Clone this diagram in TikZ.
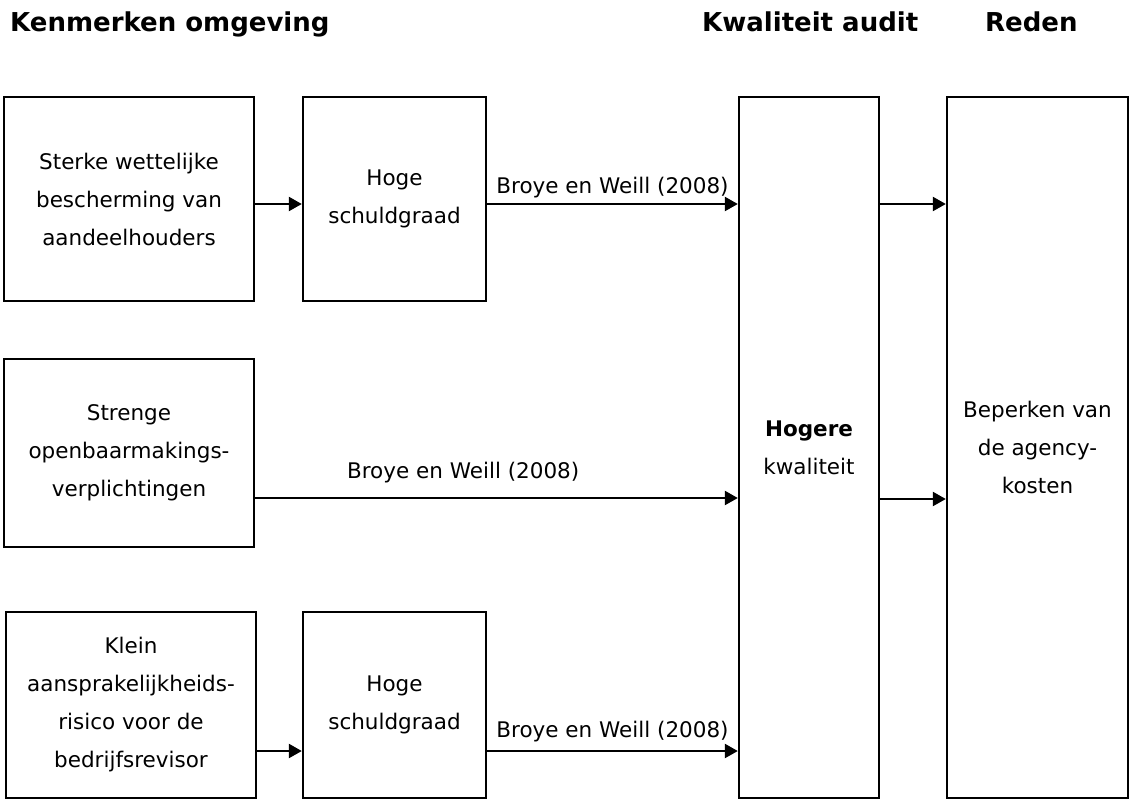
\documentclass[tikz,border=0pt]{standalone}
\usepackage{fontspec}
\setmainfont{DejaVu Sans}
\usetikzlibrary{arrows.meta}
\tikzset{
  box/.style={draw=black, line width=2.4pt, inner sep=0pt, align=center,
    font=\fontsize{21.5}{38}\selectfont},
  head/.style={anchor=base west, inner sep=0pt, font=\fontsize{26}{30}\selectfont\bfseries},
  arr/.style={line width=2.4pt, -{Triangle[length=13pt,width=14pt]}},
  lbl/.style={anchor=base, inner sep=0pt, font=\fontsize{21.5}{26}\selectfont},
}
\begin{document}
\begin{tikzpicture}[x=1pt,y=-1pt]
\useasboundingbox (0,0) rectangle (1132,800);
% headers
\node[head] (t1) at (10,32) {Kenmerken omgeving};
\node[head] (t2) at (702,32) {Kwaliteit audit};
\node[head] (t3) at (985,32) {Reden};
% boxes
\node[box, minimum width=250pt, minimum height=204pt] (A1) at (129,199)
  {Sterke wettelijke\\bescherming van\\aandeelhouders};
\node[box, minimum width=183pt, minimum height=204pt] (B1) at (394.5,199)
  {Hoge\\schuldgraad};
\node[box, minimum width=250pt, minimum height=188pt] (A2) at (129,453)
  {Strenge\\openbaarmakings-\\verplichtingen};
\node[box, minimum width=250pt, minimum height=186pt] (A3) at (131,705)
  {Klein\\aansprakelijkheids-\\risico voor de\\bedrijfsrevisor};
\node[box, minimum width=183pt, minimum height=186pt] (B3) at (394.5,705)
  {Hoge\\schuldgraad};
\node[box, minimum width=140pt, minimum height=701pt] (H) at (809,447.5)
  {\textbf{Hogere}\\kwaliteit};
\node[box, minimum width=181pt, minimum height=701pt] (R) at (1037.5,447.5)
  {Beperken van\\de agency-\\kosten};
% connector start points
\coordinate (a1) at ([yshift=-5pt]A1.east);
\coordinate (b1) at ([yshift=-5pt]B1.east);
\coordinate (a2) at ([yshift=-45pt]A2.east);
\coordinate (a3) at ([yshift=-46pt]A3.east);
\coordinate (b3) at ([yshift=-46pt]B3.east);
\coordinate (hh1) at ([yshift=243.5pt]H.east);
\coordinate (hh2) at ([yshift=-51.5pt]H.east);
% connectors
\draw[arr] (a1) -- (a1 -| B1.west);
\draw[arr] (b1) -- (b1 -| H.west) node[lbl, pos=0.5, yshift=11pt] {Broye en Weill (2008)};
\draw[arr] (a2) -- (a2 -| H.west) node[lbl, pos=0.431, yshift=20pt] {Broye en Weill (2008)};
\draw[arr] (a3) -- (a3 -| B3.west);
\draw[arr] (b3) -- (b3 -| H.west) node[lbl, pos=0.5, yshift=14pt] {Broye en Weill (2008)};
\draw[arr] (hh1) -- (hh1 -| R.west);
\draw[arr] (hh2) -- (hh2 -| R.west);
\end{tikzpicture}
\end{document}
